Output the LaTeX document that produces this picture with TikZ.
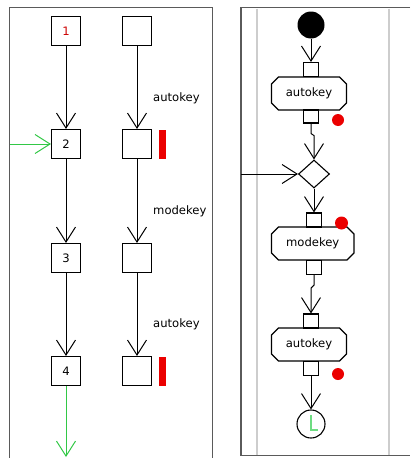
\documentclass[tikz,border=0pt]{standalone}
\usepackage{fontspec}
\setmainfont{DejaVu Sans}
\usepackage{xcolor}
\usetikzlibrary{arrows, arrows.meta, shapes.geometric, shapes.misc}

\definecolor{flowgreen}{RGB}{50,200,70}
\definecolor{lightgreen}{RGB}{110,220,130}
\definecolor{keyred}{RGB}{235,0,0}
\definecolor{panelgray}{RGB}{90,90,90}
\definecolor{lanegray}{RGB}{205,205,205}

\begin{document}
\begin{tikzpicture}[x=1pt, y=-1pt,
  font=\fontsize{11.6}{13}\selectfont,
  flow/.style={line width=1pt, -{Straight Barb[length=15pt,width=19pt]}},
  greenflow/.style={flow, draw=flowgreen},
  statebox/.style={draw, line width=1.1pt, minimum size=29pt, inner sep=0pt},
  keybar/.style={fill=keyred, minimum width=7pt, minimum height=29pt, inner sep=0pt},
  keylabel/.style={anchor=west, inner sep=0pt},
  panel/.style={draw=panelgray, line width=1.5pt},
  lane/.style={draw=lanegray, line width=2pt},
  pin/.style={draw, line width=1.1pt, fill=white, minimum width=15pt, minimum height=14pt, inner sep=0pt},
  action/.style={draw, line width=1.1pt, chamfered rectangle, chamfered rectangle xsep=3.5pt, chamfered rectangle ysep=3.5pt, minimum width=75pt, minimum height=33pt, inner sep=0pt},
  reddot/.style={circle, fill=keyred, minimum size=12pt, inner sep=0pt},
  decision/.style={draw, line width=1.1pt, diamond, minimum width=31pt, minimum height=28pt, inner sep=0pt},
]
%\draw[step=10,gray,very thin] (0,0) grid (410,458); %background grid
\useasboundingbox (0,0) rectangle (410,458);

% left panel
\draw[panel] (9.5,458) -- (9.5,7.5) -- (212.5,7.5) -- (212.5,458);

\node[statebox] (s1) at (66,31)  {\textcolor{red!80!black}{1}};
\node[statebox] (s2) at (66,144) {2};
\node[statebox] (s3) at (66,258) {3};
\node[statebox] (s4) at (66,371) {4};

\node[statebox] (k1) at (137,31)  {};
\node[statebox] (k2) at (137,144) {};
\node[statebox] (k3) at (137,258) {};
\node[statebox] (k4) at (137,371) {};

\node[keybar] (bar2) at (162.5,144) {};
\node[keybar] (bar4) at (162.5,371) {};

\node[keylabel] (ev1) at (153,98)  {autokey};
\node[keylabel] (ev2) at (153,211) {modekey};
\node[keylabel] (ev3) at (153,324) {autokey};

\draw[flow] (s1) -- (s2);
\draw[flow] (s2) -- (s3);
\draw[flow] (s3) -- (s4);
\draw[flow] (k1) -- (k2);
\draw[flow] (k2) -- (k3);
\draw[flow] (k3) -- (k4);

\coordinate (entry) at (9.5,144);
\coordinate (exit) at (66,457);
\draw[greenflow] (entry) -- (s2);
\draw[greenflow] (s4) -- (exit);

% right panel
\draw[lane] (257,8.5) -- (257,454.5);
\draw[lane] (389,8.5) -- (389,454.5);
\draw[panel] (410,7.5) -- (241,7.5) -- (241,455.5) -- (410,455.5);

\node[circle, fill=black, minimum size=27pt, inner sep=0pt] (init) at (311,25) {};

\node[action] (a1) at (309,93.5)  {autokey};
\node[pin] (p1in)  at (311,69.5)  {};
\node[pin, minimum height=13pt] (p1out) at (311,116.5) {};
\node[reddot] (dot1) at (338,120) {};

\node[decision] (dec) at (314,174) {};

\node[action, minimum width=82.5pt] (a2) at (312.75,243.5) {modekey};
\node[pin] (p2in)  at (314,220)   {};
\node[pin] (p2out) at (314,267.5) {};
\node[reddot, minimum size=13pt] (dot2) at (341.5,223) {};

\node[action] (a3) at (309,344.5) {autokey};
\node[pin] (p3in)  at (311,321)   {};
\node[pin] (p3out) at (311,368.5) {};
\node[reddot] (dot3) at (338,374) {};

\node[circle, draw, line width=1.1pt, minimum size=28pt, inner sep=0pt] (final) at (311,424) {};
\draw[lightgreen, line width=1.2pt] (311,415) -- (311,430) -- (318,430);

\draw[flow] (init) -- (p1in);
\draw[flow] (p1out.south) -- ++(0,10) -- ++(3,2) -- (dec.north);
\coordinate (lanein) at (241,174);
\draw[flow] (lanein) -- (dec.west);
\draw[flow] (dec.south) -- (p2in.north);
\draw[flow] (p2out.south) -- ++(0,10) -- ++(-3,3) -- (p3in.north);
\draw[flow] (p3out.south) -- (final.north);

\end{tikzpicture}
\end{document}
